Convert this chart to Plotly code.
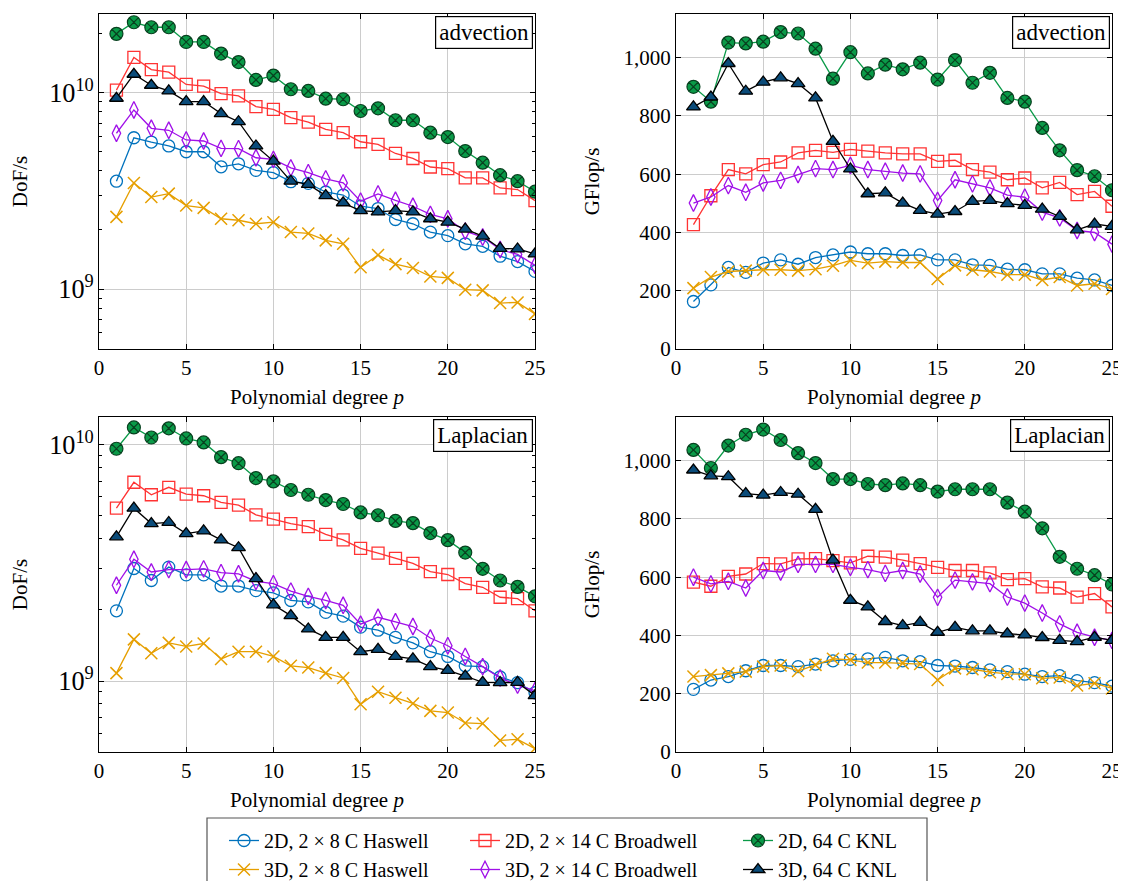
import plotly.graph_objects as go

degrees = list(range(1, 26))

# ---------- advection, DoF/s ----------
adv_dof_2d_haswell = [3.54e9, 5.89e9, 5.60e9, 5.35e9, 5.00e9, 5.00e9, 4.19e9, 4.34e9, 4.02e9, 3.91e9,
                      3.52e9, 3.45e9, 3.12e9, 3.01e9, 2.64e9, 2.57e9, 2.26e9, 2.15e9, 1.95e9, 1.87e9,
                      1.70e9, 1.65e9, 1.47e9, 1.38e9, 1.23e9]
adv_dof_2d_broadwell = [1.03e10, 1.51e10, 1.31e10, 1.27e10, 1.10e10, 1.08e10, 9.88e9, 9.62e9, 8.49e9, 8.22e9,
                        7.45e9, 7.08e9, 6.50e9, 6.25e9, 5.62e9, 5.45e9, 4.90e9, 4.62e9, 4.18e9, 4.10e9,
                        3.68e9, 3.68e9, 3.27e9, 3.21e9, 2.82e9]
adv_dof_2d_knl = [1.99e10, 2.28e10, 2.15e10, 2.15e10, 1.81e10, 1.81e10, 1.58e10, 1.43e10, 1.16e10, 1.22e10,
                  1.04e10, 1.02e10, 9.31e9, 9.25e9, 8.06e9, 8.32e9, 7.23e9, 7.23e9, 6.25e9, 5.94e9,
                  5.04e9, 4.40e9, 3.80e9, 3.54e9, 3.13e9]
adv_dof_3d_haswell = [2.33e9, 3.47e9, 2.94e9, 3.06e9, 2.66e9, 2.59e9, 2.28e9, 2.24e9, 2.15e9, 2.19e9,
                      1.95e9, 1.92e9, 1.77e9, 1.70e9, 1.29e9, 1.49e9, 1.34e9, 1.28e9, 1.16e9, 1.14e9,
                      9.93e8, 9.85e8, 8.49e8, 8.55e8, 7.48e8]
adv_dof_3d_broadwell = [6.21e9, 8.16e9, 6.58e9, 6.43e9, 5.74e9, 5.67e9, 5.20e9, 5.18e9, 4.66e9, 4.57e9,
                        4.14e9, 3.91e9, 3.64e9, 3.47e9, 2.80e9, 3.05e9, 2.83e9, 2.64e9, 2.40e9, 2.28e9,
                        1.97e9, 1.84e9, 1.59e9, 1.50e9, 1.32e9]
adv_dof_3d_knl = [9.36e9, 1.24e10, 1.09e10, 1.02e10, 9.0e9, 9.0e9, 7.82e9, 7.11e9, 5.35e9, 4.48e9,
                  3.54e9, 3.41e9, 2.99e9, 2.75e9, 2.51e9, 2.47e9, 2.51e9, 2.47e9, 2.28e9, 2.19e9,
                  2.02e9, 1.86e9, 1.61e9, 1.60e9, 1.51e9]

# ---------- advection, GFlop/s ----------
adv_gf_2d_haswell = [163, 220, 280, 263, 295, 306, 291, 314, 323, 333, 327, 327, 321, 323, 306, 306,
                     289, 287, 274, 272, 258, 258, 243, 237, 218]
adv_gf_2d_broadwell = [427, 526, 616, 601, 633, 642, 673, 682, 675, 685, 679, 673, 670, 670, 644, 648,
                       616, 607, 581, 587, 553, 572, 530, 541, 490]
adv_gf_2d_knl = [900, 849, 1052, 1049, 1055, 1088, 1083, 1031, 928, 1019, 946, 976, 960, 983, 925, 992,
                 914, 948, 862, 849, 759, 682, 614, 593, 545]
adv_gf_3d_haswell = [209, 247, 266, 269, 272, 272, 269, 274, 286, 304, 295, 300, 297, 297, 240, 287,
                     272, 266, 255, 255, 237, 247, 218, 224, 206]
adv_gf_3d_broadwell = [501, 522, 561, 538, 570, 579, 599, 619, 616, 630, 616, 610, 604, 601, 510, 581,
                       567, 553, 528, 521, 470, 450, 407, 400, 360]
adv_gf_3d_knl = [831, 865, 980, 885, 916, 931, 911, 862, 713, 618, 533, 536, 501, 476, 463, 472,
                 507, 510, 499, 493, 480, 455, 409, 429, 421]

# ---------- Laplacian, DoF/s ----------
lap_dof_2d_haswell = [1.98e9, 2.99e9, 2.66e9, 3.03e9, 2.81e9, 2.81e9, 2.52e9, 2.52e9, 2.41e9, 2.36e9,
                      2.19e9, 2.16e9, 1.95e9, 1.88e9, 1.69e9, 1.64e9, 1.53e9, 1.45e9, 1.33e9, 1.27e9,
                      1.16e9, 1.15e9, 1.04e9, 9.84e8, 8.92e8]
lap_dof_2d_broadwell = [5.38e9, 6.92e9, 6.13e9, 6.59e9, 6.17e9, 6.07e9, 5.69e9, 5.54e9, 5.04e9, 4.83e9,
                        4.63e9, 4.49e9, 4.17e9, 3.95e9, 3.64e9, 3.47e9, 3.30e9, 3.14e9, 2.90e9, 2.82e9,
                        2.58e9, 2.49e9, 2.26e9, 2.23e9, 1.98e9]
lap_dof_2d_knl = [9.59e9, 1.18e10, 1.07e10, 1.17e10, 1.06e10, 1.02e10, 8.84e9, 8.33e9, 7.21e9, 6.98e9,
                  6.42e9, 6.13e9, 5.82e9, 5.60e9, 5.16e9, 5.02e9, 4.75e9, 4.65e9, 4.22e9, 3.94e9,
                  3.49e9, 2.98e9, 2.66e9, 2.50e9, 2.28e9]
lap_dof_3d_haswell = [1.08e9, 1.50e9, 1.31e9, 1.45e9, 1.40e9, 1.44e9, 1.24e9, 1.33e9, 1.33e9, 1.27e9,
                      1.16e9, 1.14e9, 1.08e9, 1.03e9, 7.98e8, 9.01e8, 8.50e8, 8.04e8, 7.48e8, 7.36e8,
                      6.65e8, 6.61e8, 5.61e8, 5.67e8, 5.18e8]
lap_dof_3d_broadwell = [2.54e9, 3.27e9, 2.89e9, 2.96e9, 2.96e9, 2.98e9, 2.87e9, 2.84e9, 2.64e9, 2.58e9,
                        2.40e9, 2.28e9, 2.19e9, 2.09e9, 1.74e9, 1.86e9, 1.78e9, 1.70e9, 1.52e9, 1.41e9,
                        1.27e9, 1.15e9, 1.03e9, 9.61e8, 9.10e8]
lap_dof_3d_knl = [4.07e9, 5.38e9, 4.63e9, 4.68e9, 4.20e9, 4.31e9, 3.95e9, 3.66e9, 2.71e9, 2.10e9,
                  1.89e9, 1.66e9, 1.53e9, 1.53e9, 1.33e9, 1.36e9, 1.27e9, 1.24e9, 1.15e9, 1.11e9,
                  1.05e9, 9.87e8, 9.84e8, 9.87e8, 8.67e8]

# ---------- Laplacian, GFlop/s ----------
lap_gf_2d_haswell = [215, 247, 259, 279, 297, 297, 293, 302, 313, 318, 320, 325, 313, 310, 297, 295,
                     290, 282, 276, 267, 259, 262, 245, 238, 226]
lap_gf_2d_broadwell = [583, 569, 603, 611, 647, 646, 663, 664, 657, 649, 672, 669, 659, 647, 634, 623,
                       623, 615, 592, 595, 567, 563, 532, 544, 498]
lap_gf_2d_knl = [1037, 975, 1052, 1089, 1107, 1071, 1026, 992, 937, 937, 920, 916, 922, 916, 894, 902,
                 902, 902, 856, 825, 768, 670, 629, 607, 575]
lap_gf_3d_haswell = [259, 264, 270, 276, 293, 297, 278, 299, 320, 316, 307, 307, 305, 302, 247, 287,
                     284, 274, 268, 267, 253, 256, 228, 236, 218]
lap_gf_3d_broadwell = [600, 577, 586, 563, 623, 618, 644, 644, 644, 634, 626, 613, 623, 611, 531, 590,
                       584, 578, 532, 511, 477, 440, 411, 394, 383]
lap_gf_3d_knl = [968, 948, 945, 887, 882, 891, 885, 833, 659, 521, 498, 448, 434, 445, 411, 428,
                 416, 416, 406, 402, 393, 383, 379, 394, 383]

series_names = ["2D, 2 × 8 C Haswell", "2D, 2 × 14 C Broadwell", "2D, 64 C KNL",
                "3D, 2 × 8 C Haswell", "3D, 2 × 14 C Broadwell", "3D, 64 C KNL"]
panel_labels = ["advection", "advection", "Laplacian", "Laplacian"]

panels = [
    [adv_dof_2d_haswell, adv_dof_2d_broadwell, adv_dof_2d_knl,
     adv_dof_3d_haswell, adv_dof_3d_broadwell, adv_dof_3d_knl],
    [adv_gf_2d_haswell, adv_gf_2d_broadwell, adv_gf_2d_knl,
     adv_gf_3d_haswell, adv_gf_3d_broadwell, adv_gf_3d_knl],
    [lap_dof_2d_haswell, lap_dof_2d_broadwell, lap_dof_2d_knl,
     lap_dof_3d_haswell, lap_dof_3d_broadwell, lap_dof_3d_knl],
    [lap_gf_2d_haswell, lap_gf_2d_broadwell, lap_gf_2d_knl,
     lap_gf_3d_haswell, lap_gf_3d_broadwell, lap_gf_3d_knl],
]

FONT = "Liberation Serif"
BLUE, RED, GREEN = "#0072BD", "#FF3333", "#0A9A48"
ORANGE, PURPLE, BLACK = "#E69F00", "#A010E8", "#000000"

styles = [
    dict(line=dict(color=BLUE, width=1.3),
         marker=dict(symbol="circle-open", size=12, color=BLUE, line=dict(width=1.3))),
    dict(line=dict(color=RED, width=1.3),
         marker=dict(symbol="square-open", size=12, color=RED, line=dict(width=1.3))),
    dict(line=dict(color=GREEN, width=1.3),
         marker=dict(symbol="circle-x", size=13, color=GREEN, line=dict(width=1.2, color="#08401F"))),
    dict(line=dict(color=ORANGE, width=1.3),
         marker=dict(symbol="x-thin-open", size=12, color=ORANGE, line=dict(width=1.5, color=ORANGE))),
    dict(line=dict(color=PURPLE, width=1.3),
         marker=dict(symbol="diamond-tall-open", size=12, color=PURPLE, line=dict(width=1.3))),
    dict(line=dict(color=BLACK, width=1.3),
         marker=dict(symbol="triangle-up", size=12, color="#0B4C7A", line=dict(width=1.3, color=BLACK))),
]
legend_ids = ["legend", "legend2", "legend3", "legend", "legend2", "legend3"]

fig = go.Figure()

# the page body adds an 8px offset; positions below are given in window pixels
OFF = 8
W, H = 1126 - OFF, 881 - OFF
LEFT, RIGHT, TOP, BOTTOM = 99, 1112, 14, 752   # outer frame edges in window pixels
ml, mt = LEFT - OFF, TOP - OFF
mr, mb = 1126 - RIGHT, 881 - BOTTOM
gw, gh = W - ml - mr, H - mt - mb


def px_x(px):
    return (px - LEFT) / gw


def px_y(py):
    return (BOTTOM - py) / gh


xdoms = [[0, px_x(535)], [px_x(676), 1]]
ydoms = [[px_y(349), 1], [0, px_y(417)]]

axis_ids = ["", "2", "3", "4"]
for k, data in enumerate(panels):
    ax = axis_ids[k]
    for j, vals in enumerate(data):
        fig.add_trace(go.Scatter(
            x=degrees, y=vals, mode="lines+markers", name=series_names[j],
            xaxis="x" + ax, yaxis="y" + ax,
            legend=legend_ids[j], showlegend=(k == 0),
            **styles[j]))

tickfont = dict(family=FONT, size=21, color="black")
titlefont = dict(family=FONT, size=21, color="black")
common_axis = dict(showline=True, linecolor="black", linewidth=1.1, mirror="allticks",
                   ticks="inside", ticklen=5, tickcolor="black", tickwidth=1,
                   showgrid=True, gridcolor="#CCCCCC", gridwidth=1, zeroline=False,
                   tickfont=tickfont)

layout = dict(width=W, height=H, margin=dict(l=ml, r=mr, t=mt, b=mb, autoexpand=False),
              plot_bgcolor="white", paper_bgcolor="white",
              font=dict(family=FONT, color="black"))

for k in range(4):
    ax = axis_ids[k]
    col, row = k % 2, k // 2
    layout["xaxis" + ax] = dict(
        domain=xdoms[col], anchor="y" + ax, range=[0, 25], dtick=5, tick0=0,
        title=dict(text="Polynomial degree <i>p</i>", font=titlefont, standoff=10),
        **common_axis)
    if col == 0:
        rng = [8.695, 10.40] if row == 0 else [8.70, 10.116]
        layout["yaxis" + ax] = dict(
            domain=ydoms[row], anchor="x" + ax, type="log", range=rng, dtick=1,
            exponentformat="power", showexponent="all",
            minor=dict(ticks="inside", ticklen=3, tickcolor="black", dtick="D1", showgrid=False),
            title=dict(text="DoF/s", font=titlefont, standoff=18),
            **common_axis)
    else:
        layout["yaxis" + ax] = dict(
            domain=ydoms[row], anchor="x" + ax, range=[0, 1150], dtick=200, tick0=0,
            separatethousands=True, tickformat=",d",
            title=dict(text="GFlop/s", font=titlefont, standoff=18),
            **common_axis)

fig.update_layout(**layout)

# panel labels
for k in range(4):
    ax = axis_ids[k]
    fig.add_annotation(
        text=panel_labels[k], xref="x" + ax + " domain", yref="y" + ax + " domain",
        x=1, y=1, xanchor="right", yanchor="top", xshift=-2, yshift=-2,
        showarrow=False, bgcolor="white", bordercolor="black", borderwidth=1.2, borderpad=3,
        font=dict(family=FONT, size=23, color="black"))

# legend: three columns inside a common frame
leg_common = dict(orientation="v", xanchor="left", yanchor="top", bgcolor="rgba(0,0,0,0)",
                  borderwidth=0, font=dict(family=FONT, size=20, color="black"),
                  tracegroupgap=0, itemwidth=30)
fig.update_layout(
    legend=dict(x=px_x(224), y=px_y(821), **leg_common),
    legend2=dict(x=px_x(465), y=px_y(821), **leg_common),
    legend3=dict(x=px_x(738), y=px_y(821), **leg_common),
)
fig.add_shape(type="rect", xref="paper", yref="paper",
              x0=px_x(207), x1=px_x(927), y0=px_y(890), y1=px_y(818),
              line=dict(color="#555555", width=1.2), fillcolor="rgba(0,0,0,0)", layer="above")

fig.write_html("out.html")
